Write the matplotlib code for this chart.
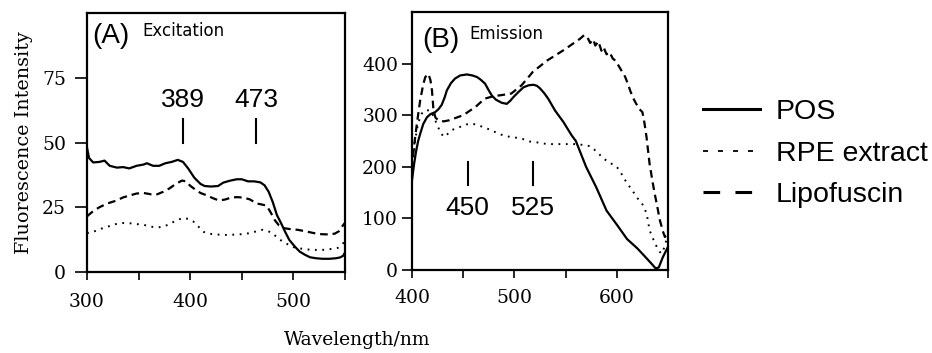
import matplotlib
matplotlib.use("Agg")
import matplotlib.pyplot as plt
from matplotlib.lines import Line2D
from matplotlib.ticker import MultipleLocator

plt.rcParams['lines.scale_dashes'] = False

# ---------------- Panel A: Excitation ----------------
exc_pos_wl = [300, 302, 306, 312, 317, 322, 329, 335, 341, 348, 355, 358, 364, 370, 376, 382, 388,
              393, 398, 404, 410, 414, 420, 427, 432, 438, 445, 450, 456, 462, 468, 472, 476, 480,
              484, 488, 492, 496, 501, 506, 511, 516, 522, 528, 535, 541, 545, 548, 550]
exc_pos = [48, 44, 42.3, 42.5, 43, 41, 40.3, 40.5, 40, 41, 41.5, 42, 41, 41, 42, 42.5, 43.3,
           42.5, 40, 36.4, 34, 33.2, 33, 33.2, 34.5, 35.2, 35.8, 35.8, 35, 35, 34.6, 33.5, 31, 27,
           22, 18.9, 15.5, 12.4, 10, 7.9, 6.7, 5.7, 5.3, 5.1, 5.1, 5.3, 5.6, 6.2, 7.5]

exc_lip_wl = [300, 306, 312, 320, 328, 335, 341, 348, 355, 362, 368, 374, 380, 386, 392, 396, 400,
              405, 410, 416, 422, 428, 434, 440, 446, 452, 458, 464, 470, 474, 478, 482, 486, 490,
              496, 504, 512, 520, 527, 534, 540, 544, 548, 550]
exc_lip = [21.5, 23.5, 25, 26.5, 27.5, 28.8, 29.5, 30.3, 30.5, 30, 30, 31, 32.3, 34, 35.3, 35, 33.3,
           31.8, 30.5, 29.6, 28.5, 27.6, 28, 28.8, 28.9, 28.7, 28, 26.5, 26, 25.6, 23, 20, 18, 17,
           16.6, 16.3, 15.7, 15, 14.6, 14.5, 14.8, 15.7, 18, 19]

exc_rpe_wl = [300, 306, 312, 320, 328, 335, 342, 348, 355, 362, 368, 374, 380, 386, 393, 398, 403,
              408, 413, 418, 425, 433, 441, 450, 458, 465, 470, 475, 479, 483, 488, 494, 500, 508,
              516, 524, 532, 538, 543, 547, 550]
exc_rpe = [15, 15.5, 16.5, 17.5, 18.5, 18.9, 18.8, 18.5, 18.2, 17.5, 17.2, 17.5, 18.5, 19.8, 20.9,
           20.5, 19.5, 17.5, 15.5, 14.8, 14.5, 14.3, 14.4, 14.6, 15, 15.8, 16.3, 15.8, 15.2, 13.8,
           12.2, 10.8, 9.6, 9, 8.6, 8.5, 8.6, 9, 9.3, 10.5, 12]

# ---------------- Panel B: Emission ----------------
em_pos_wl = [400, 402, 404, 406, 408, 411, 414.6, 418, 422.7, 426, 429, 432, 434, 438, 442, 447,
             453.6, 459, 463.4, 467, 471.4, 475, 478, 482, 487.7, 492.6, 496, 499, 504, 508.8, 514,
             518.5, 522, 525, 529, 533, 539.7, 547.8, 555.9, 560, 570, 580, 590, 600, 610, 620,
             628, 634, 638, 641, 645, 650]
em_pos = [174, 205, 230, 250, 264, 283, 296, 302, 306, 312, 320, 335, 348, 362, 371, 377,
          379, 377, 374, 369, 361, 348, 338, 330, 324, 322, 328, 335, 345, 354, 358,
          359, 357, 352, 343, 332, 309, 287, 261, 250, 200, 160, 115, 88, 60, 42,
          25, 12, 3, 5, 25, 45]

em_lip_wl = [400, 402, 404.8, 408, 411, 413, 416, 418, 419.5, 421, 423, 426, 431, 436, 443, 450,
             456, 462, 467, 471, 478, 484, 491, 497, 502, 507, 513, 518, 525, 532, 540, 548, 556,
             564, 568, 571, 574, 577, 579, 582, 585, 587, 590, 593, 596, 599, 602, 605, 608, 611,
             613, 616, 619, 622, 625, 627, 629, 632, 635, 637, 640, 642, 645, 647, 649, 650]
em_lip = [195, 240, 284, 329, 360, 374, 380, 368, 348, 309, 295, 290, 288, 290, 295, 300,
          308, 316, 325, 332, 336, 338, 340, 342, 350, 358, 372, 384, 395, 406, 416, 426, 437,
          448, 455, 452, 440, 447, 435, 443, 425, 432, 418, 422, 410, 405, 395, 385, 375, 360,
          348, 333, 322, 312, 306, 285, 258, 206, 170, 148, 118, 97, 75, 64, 70, 75]

em_rpe_wl = [400, 402, 403, 406, 409.5, 413, 417.8, 421, 424, 427, 430.8, 434, 438, 442, 448, 453,
             458.5, 465, 471.4, 478, 484, 490, 496, 500, 508, 515, 520, 526, 532, 540, 548, 555,
             561, 568, 574, 580, 587, 593, 600, 605, 610, 615, 619, 624, 627, 630, 632, 636, 639,
             642, 644, 646, 648, 650]
em_rpe = [190, 230, 251, 285, 303, 310, 309, 298, 284, 270, 258, 262, 270, 274, 278, 282,
          284, 280, 276, 270, 265, 260, 258, 257, 254, 249, 248, 246, 244, 244, 244, 244,
          244, 242, 240, 230, 216, 208, 200, 185, 168, 155, 142, 130, 122, 100, 77, 58, 45,
          35, 32, 42, 55, 62]

# Peak marker annotations
exc_peak_labels = ["389", "473"]
exc_peak_x = [393, 464]
em_peak_labels = ["450", "525"]
em_peak_x = [454.5, 518]

series_labels = ["POS", "RPE extract", "Lipofuscin"]

# ---------------- Figure ----------------
W, H = 932, 353
fig = plt.figure(figsize=(W / 100, H / 100), dpi=100)

def px_axes(l, t, r, b):
    return fig.add_axes([l / W, 1 - b / H, (r - l) / W, (b - t) / H])

axA = px_axes(87, 13, 345, 272)
axB = px_axes(412, 12, 668, 270)

LW = 1.6
dash_style = (0, (5.5, 3.5))
dot_style = (0, (1.3, 4.0))
TICK_FS = 13.5

for ax in (axA, axB):
    for sp in ax.spines.values():
        sp.set_linewidth(1.6)
    ax.tick_params(which='both', direction='out', width=1.2, labelsize=TICK_FS,
                   colors='black')

# Panel A
axA.plot(exc_pos_wl, exc_pos, color='black', lw=LW)
axA.plot(exc_lip_wl, exc_lip, color='black', lw=LW, linestyle=dash_style)
axA.plot(exc_rpe_wl, exc_rpe, color='black', lw=1.4, linestyle=dot_style)
axA.set_xlim(300, 550)
axA.set_ylim(0, 100)
axA.set_xticks([300, 400, 500])
axA.xaxis.set_minor_locator(MultipleLocator(50))
axA.set_yticks([0, 25, 50, 75])
axA.tick_params(axis='y', length=9, pad=6)
axA.tick_params(axis='x', which='both', length=6, pad=9)

for lab, x in zip(exc_peak_labels, exc_peak_x):
    axA.plot([x, x], [50, 59], color='black', lw=1.5)
    axA.text(x, 63.6, lab, ha='center', va='baseline', fontsize=19,
             family='Liberation Sans')
axA.text(305.5, 91, "(A)", ha='left', va='center', fontsize=20, family='Liberation Sans')
axA.text(354, 93, "Excitation", ha='left', va='center', fontsize=12, family='DejaVu Sans')

# Panel B
axB.plot(em_pos_wl, em_pos, color='black', lw=LW)
axB.plot(em_lip_wl, em_lip, color='black', lw=LW, linestyle=dash_style)
axB.plot(em_rpe_wl, em_rpe, color='black', lw=1.4, linestyle=dot_style)
axB.set_xlim(400, 650)
axB.set_ylim(0, 500)
axB.set_xticks([400, 500, 600])
axB.xaxis.set_minor_locator(MultipleLocator(50))
axB.set_yticks([0, 100, 200, 300, 400])
axB.tick_params(axis='y', length=7, pad=3)
axB.tick_params(axis='x', which='both', length=6, pad=8)

for lab, x in zip(em_peak_labels, em_peak_x):
    axB.plot([x, x], [164, 209], color='black', lw=1.5)
    axB.text(x, 106, lab, ha='center', va='baseline', fontsize=19,
             family='Liberation Sans')
axB.text(410, 445, "(B)", ha='left', va='center', fontsize=20, family='Liberation Sans')
axB.text(456.5, 458, "Emission", ha='left', va='center', fontsize=12, family='DejaVu Sans')

for ax in (axA, axB):
    for lab in ax.get_xticklabels() + ax.get_yticklabels():
        lab.set_family('DejaVu Serif')

# Axis titles
fig.text(24 / W, 1 - 143 / H, "Fluorescence Intensity", rotation=90, ha='center',
         va='center', fontsize=13.8, family='DejaVu Serif')
fig.text(357 / W, 1 - 340 / H, "Wavelength/nm", ha='center', va='center',
         fontsize=13.5, family='DejaVu Serif')

# Legend
handles = [
    Line2D([], [], color='black', lw=2.2),
    Line2D([], [], color='black', lw=1.3, linestyle=(0, (3.6, 7.2))),
    Line2D([], [], color='black', lw=2.2, linestyle=(0, (12, 11))),
]
fig.legend(handles, series_labels, loc='upper left',
           bbox_to_anchor=(703 / W, 1 - 99 / H), frameon=False,
           prop={'family': 'Liberation Sans', 'size': 20.5},
           handlelength=2.0, handletextpad=0.55, labelspacing=0.55,
           borderpad=0, borderaxespad=0)

fig.savefig("out.png", dpi=100)
